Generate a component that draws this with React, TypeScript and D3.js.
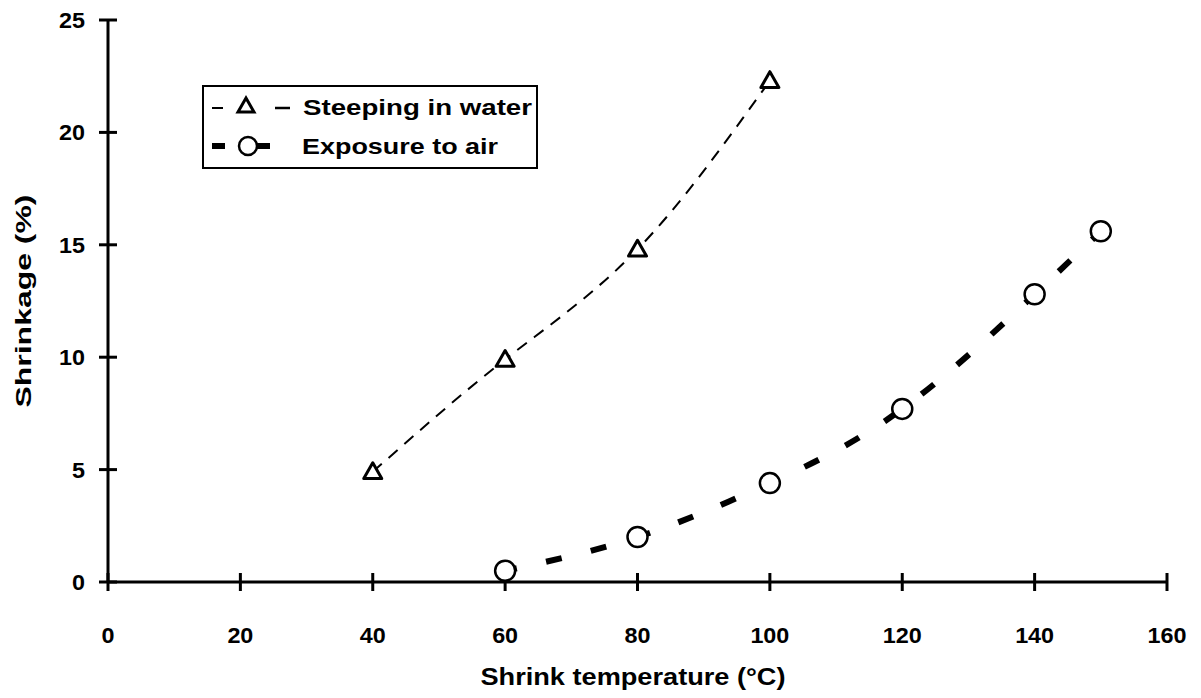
import React from 'react'
import * as d3 from 'd3'

const waterTemp = [40, 60, 80, 100]
const waterShrink = [4.9, 9.9, 14.8, 22.3]
const airTemp = [60, 80, 100, 120, 140, 150]
const airShrink = [0.5, 2.0, 4.4, 7.7, 12.8, 15.6]
const xTicks = [0, 20, 40, 60, 80, 100, 120, 140, 160]
const yTicks = [0, 5, 10, 15, 20, 25]

const W = 1201
const H = 698
const font = '"Liberation Sans", Arial, sans-serif'

const App = () => {
    const x = d3.scaleLinear().domain([0, 160]).range([108, 1167])
    const y = d3.scaleLinear().domain([0, 25]).range([582, 20])

    const line = d3.line<[number, number]>()
        .x(d => x(d[0]))
        .y(d => y(d[1]))
        .curve(d3.curveNatural)

    const waterPts: [number, number][] = waterTemp.map((t, i) => [t, waterShrink[i]])
    const airPts: [number, number][] = airTemp.map((t, i) => [t, airShrink[i]])

    const tri = (cx: number, cy: number, s = 9) =>
        `M${cx},${cy - s} L${cx + s},${cy + s * 0.75} L${cx - s},${cy + s * 0.75} Z`

    // tick labels are wider than Liberation Sans, stretch them a bit
    const tickW = (t: number) => String(t).length * 13

    return (
        <svg width={W} height={H} viewBox={`0 0 ${W} ${H}`}
            style={{position: 'absolute', left: 0, top: 0, background: '#fff'}}>
            {/* axes */}
            <line x1={x(0)} x2={x(160)} y1={y(0)} y2={y(0)} stroke="#000" strokeWidth={3} />
            <line x1={x(0)} x2={x(0)} y1={y(0)} y2={y(25)} stroke="#000" strokeWidth={3} />
            {xTicks.map(t => (
                <g key={'x' + t}>
                    <line x1={x(t)} x2={x(t)} y1={y(0) - 9} y2={y(0) + 9} stroke="#000" strokeWidth={3} />
                    <text x={x(t)} y={y(0) + 61} textAnchor="middle" fontFamily={font}
                        fontWeight="bold" fontSize={22} textLength={tickW(t)}
                        lengthAdjust="spacingAndGlyphs">{t}</text>
                </g>
            ))}
            {yTicks.map(t => (
                <g key={'y' + t}>
                    <line x1={x(0) - 9} x2={x(0) + 9} y1={y(t)} y2={y(t)} stroke="#000" strokeWidth={3} />
                    <text x={x(0) - 23} y={y(t) + 8} textAnchor="end" fontFamily={font}
                        fontWeight="bold" fontSize={22} textLength={tickW(t)}
                        lengthAdjust="spacingAndGlyphs">{t}</text>
                </g>
            ))}
            <text x={633} y={685} textAnchor="middle" fontFamily={font} fontWeight="bold"
                fontSize={23} textLength={305} lengthAdjust="spacingAndGlyphs">Shrink temperature (°C)</text>
            <text transform={`translate(31,${y(12.5)}) rotate(-90)`} textAnchor="middle"
                fontFamily={font} fontWeight="bold" fontSize={22} textLength={213}
                lengthAdjust="spacingAndGlyphs">Shrinkage (%)</text>

            {/* series */}
            <path d={line(waterPts) || ''} fill="none" stroke="#000" strokeWidth={2}
                strokeDasharray="12 9" />
            <path d={line(airPts) || ''} fill="none" stroke="#000" strokeWidth={6}
                strokeDasharray="16 30" strokeDashoffset={-42} />
            {waterPts.map((p, i) => (
                <path key={'w' + i} d={tri(x(p[0]), y(p[1]))} fill="#fff" stroke="#000"
                    strokeWidth={3} strokeLinejoin="round" />
            ))}
            {airPts.map((p, i) => (
                <circle key={'a' + i} cx={x(p[0])} cy={y(p[1])} r={10} fill="#fff"
                    stroke="#000" strokeWidth={2.5} />
            ))}

            {/* legend */}
            <rect x={203} y={86} width={334} height={82} fill="#fff" stroke="#000" strokeWidth={2} />
            <line x1={212} x2={223} y1={108} y2={108} stroke="#000" strokeWidth={2} />
            <path d={tri(246, 106, 8)} fill="#fff" stroke="#000" strokeWidth={3} />
            <line x1={275} x2={290} y1={108} y2={108} stroke="#000" strokeWidth={2.5} />
            <text x={303} y={115} fontFamily={font} fontWeight="bold" fontSize={22}
                textLength={229} lengthAdjust="spacingAndGlyphs">Steeping in water</text>
            <line x1={212} x2={225} y1={146} y2={146} stroke="#000" strokeWidth={6} />
            <circle cx={248} cy={146} r={9} fill="#fff" stroke="#000" strokeWidth={2.5} />
            <line x1={257} x2={270} y1={146} y2={146} stroke="#000" strokeWidth={6} />
            <text x={302} y={154} fontFamily={font} fontWeight="bold" fontSize={22}
                textLength={196} lengthAdjust="spacingAndGlyphs">Exposure to air</text>
        </svg>
    )
}

export default App
